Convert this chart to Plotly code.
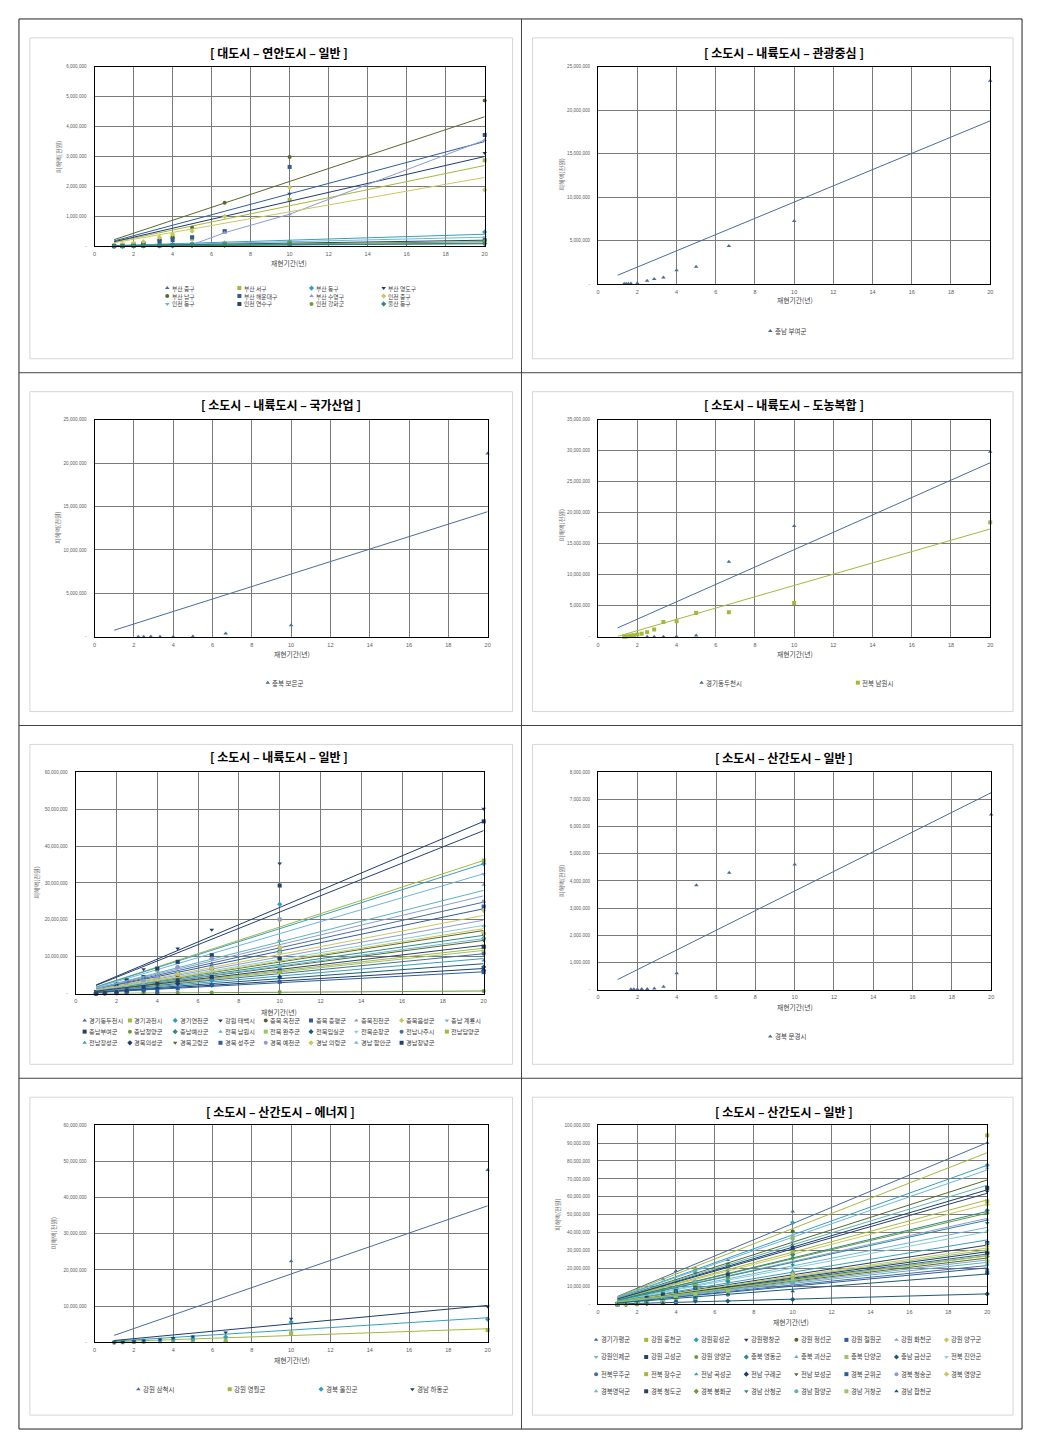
import plotly.graph_objects as go

PAGE_W, PAGE_H = 1041, 1453
BODY = 8                       # default page margin around the figure div
W, H = PAGE_W - 2 * BODY, PAGE_H - 2 * BODY
UNIT = 1_000_000          # all series values below are in millions of 천원
TREND_X = [1, 20]         # Excel trendline span (min..max return period)
X_TICKS = [0, 2, 4, 6, 8, 10, 12, 14, 16, 18, 20]
X_TITLE = "재현기간(년)"
Y_TITLE = "피해액(천원)"

# ---------------- Panel 1 : 대도시 - 연안도시 - 일반 ----------------
P1_TITLE = "[ 대도시 – 연안도시 – 일반 ]"
P1_X = [20, 10, 6.67, 5, 4, 3.33, 2.5, 2, 1.43, 1]
P1_NAMES = ["부산 중구", "부산 서구", "부산 동구", "부산 영도구",
            "부산 남구", "부산 해운대구", "부산 수영구", "인천 중구",
            "인천 동구", "인천 연수구", "인천 강화군", "울산 동구"]
P1_VALUES = [
    [0.12, 0.06, 0.04, 0.03, 0.02, 0.02, 0.01, 0.01, 0, 0],
    [2.87, 1.55, 0.5, 0.25, 0.3, 0.2, 0.1, 0.08, 0.05, 0.02],
    [0.47, 0.15, 0.1, 0.08, 0.05, 0.04, 0.02, 0.02, 0.01, 0],
    [3.12, 1.75, 1.0, 0.3, 0.25, 0.2, 0.1, 0.05, 0.03, 0.01],
    [4.87, 2.98, 1.45, 0.62, 0.3, 0.2, 0.1, 0.05, 0.02, 0.01],
    [3.72, 2.65, 0.5, 0.3, 0.2, 0.15, 0.1, 0.05, 0.02, 0.01],
    [3.55, 1.07, 0.45, 0.05, 0.03, 0.02, 0.01, 0.01, 0, 0],
    [1.88, 1.97, 1.0, 0.5, 0.4, 0.3, 0.15, 0.1, 0.05, 0.02],
    [0.3, 0.15, 0.12, 0.05, 0.04, 0.03, 0.02, 0.01, 0, 0],
    [0.2, 0.08, 0.06, 0.04, 0.03, 0.02, 0.01, 0.01, 0, 0],
    [0.17, 0.12, 0.08, 0.05, 0.03, 0.02, 0.01, 0.01, 0, 0],
    [0.08, 0.05, 0.03, 0.02, 0.01, 0.01, 0.01, 0, 0, 0],
]
# trendline slope (millions per year); None = points joined by a line
P1_SLOPES = [0.005, 0.135, 0.02, 0.15, 0.2165, 0.175, None, 0.115, 0.015, 0.01, 0.0075, 0.004]
P1_ICPTS = [0] * 12

# ---------------- Panel 2 : 소도시 - 내륙도시 - 관광중심 ----------------
P2_TITLE = "[ 소도시 – 내륙도시 – 관광중심 ]"
P2_X = [20, 10, 6.67, 5, 4, 3.33, 2.86, 2.5, 2, 1.67, 1.54, 1.43, 1.33]
P2_NAMES = ["충남 부여군"]
P2_VALUES = [[23.4, 7.25, 4.39, 1.98, 1.6, 0.76, 0.57, 0.38, 0.1, 0.05, 0.04, 0.03, 0.02]]
P2_SLOPES = [0.935]
P2_ICPTS = [0.08]

# ---------------- Panel 3 : 소도시 - 내륙도시 - 국가산업 ----------------
P3_TITLE = "[ 소도시 – 내륙도시 – 국가산업 ]"
P3_X = [20, 10, 6.67, 5, 4, 3.33, 2.86, 2.5, 2.22]
P3_NAMES = ["충북 보은군"]
P3_VALUES = [[21.1, 1.34, 0.38, 0.03, 0.02, 0.02, 0.03, 0.02, 0.02]]
P3_SLOPES = [0.718]
P3_ICPTS = [0.04]

# ---------------- Panel 4 : 소도시 - 내륙도시 - 도농복합 ----------------
P4_TITLE = "[ 소도시 – 내륙도시 – 도농복합 ]"
P4_X = [20, 10, 6.67, 5, 4, 3.33, 2.86, 2.5, 2.22, 2, 1.82, 1.67, 1.54, 1.43, 1.33]
P4_NAMES = ["경기동두천시", "전북 남원시"]
P4_VALUES = [
    [29.8, 17.85, 12.1, 0.2, 0.05, 0.02, 0.02, 0.02, None, None, None, None, None, None, None],
    [18.44, 5.45, 3.96, 3.85, 2.51, 2.4, 1.18, 0.75, 0.5, 0.37, 0.25, 0.2, 0.1, 0.05, 0.02],
]
P4_SLOPES = [1.40, 0.91]
P4_ICPTS = [0.04, -0.83]

# ---------------- Panel 5 : 소도시 - 내륙도시 - 일반 ----------------
P5_TITLE = "[ 소도시 – 내륙도시 – 일반 ]"
P5_X = [20, 10, 6.67, 5, 4, 3.33, 2.5, 2, 1.43, 1]
P5_NAMES = ["경기동두천시", "경기과천시", "경기연천군", "강원 태백시", "충북 옥천군",
            "충북 증평군", "충북진천군", "충북음성군", "충남 계룡시",
            "충남부여군", "충남청양군", "충남예산군", "전북 남원시", "전북 완주군",
            "전북임실군", "전북순창군", "전남나주시", "전남담양군",
            "전남장성군", "경북의성군", "경북고령군", "경북 성주군", "경북 예천군",
            "경남 의령군", "경남 함안군", "경남창녕군"]
P5_VALUES = [
    [24.9, 14.4, 8.1, 5.4, 4.5, 3.6, 2.3, 1.4, 0.6, 0.2],
    [36.1, 20.1, 10.4, 8.6, 6.3, 4.5, 2.7, 1.8, 0.8, 0.3],
    [35.2, 24.2, 9.5, 7.2, 4.5, 3.6, 2.7, 1.8, 0.8, 0.3],
    [50.1, 35.3, 17.3, 12.2, 6.8, 6.6, 3.6, 2.7, 1.0, 0.5],
    [16.3, 12.5, 6.8, 4.5, 2.7, 2.3, 1.8, 0.9, 0.4, 0.2],
    [23.6, 11.4, 6.8, 5.4, 4.5, 2.7, 1.8, 0.9, 0.4, 0.2],
    [18.3, 12.5, 5.4, 4.5, 3.6, 2.3, 1.4, 0.9, 0.4, 0.1],
    [22.5, 10.8, 5.4, 4.5, 2.7, 2.3, 1.8, 0.9, 0.4, 0.2],
    [32.4, 20.1, 10.4, 7.2, 6.3, 4.5, 2.7, 1.4, 0.6, 0.3],
    [46.7, 29.3, 10.4, 8.6, 6.8, 4.5, 3.6, 2.3, 0.9, 0.4],
    [0.7, 0.4, 0.3, 0.2, 0.1, 0.1, 0.1, 0, 0, 0],
    [15.0, 9.5, 6.8, 3.6, 2.7, 2.3, 1.4, 0.9, 0.4, 0.1],
    [29.5, 14.4, 9.5, 7.2, 4.5, 3.6, 2.3, 1.8, 0.6, 0.2],
    [11.4, 7.2, 4.5, 3.6, 2.7, 1.8, 1.4, 0.9, 0.3, 0.1],
    [7.2, 5.8, 3.6, 2.7, 1.4, 1.4, 0.9, 0.5, 0.2, 0.1],
    [18.3, 11.4, 6.8, 4.5, 2.7, 2.3, 1.8, 0.9, 0.4, 0.2],
    [10.8, 6.5, 3.6, 2.7, 2.7, 1.8, 0.9, 0.5, 0.2, 0.1],
    [12.7, 5.8, 4.5, 3.6, 2.7, 1.8, 1.4, 0.9, 0.3, 0.1],
    [9.0, 6.5, 3.6, 2.7, 1.4, 1.4, 0.9, 0.5, 0.2, 0.1],
    [6.3, 4.5, 2.3, 2.7, 1.4, 0.9, 0.5, 0.5, 0.2, 0],
    [14.4, 9.5, 5.4, 4.5, 2.7, 1.8, 1.4, 0.9, 0.4, 0.1],
    [5.8, 3.2, 2.3, 1.4, 0.5, 0.9, 0.5, 0.2, 0.1, 0],
    [25.0, 20.1, 9.5, 7.2, 4.5, 3.6, 2.3, 1.4, 0.6, 0.2],
    [16.5, 12.5, 6.8, 5.4, 3.6, 2.3, 1.8, 0.9, 0.4, 0.1],
    [15.0, 7.2, 5.4, 3.6, 2.7, 2.3, 1.4, 0.9, 0.3, 0.1],
    [12.7, 9.5, 4.5, 3.6, 2.7, 1.8, 0.9, 0.5, 0.2, 0.1],
]
P5_SLOPES = [1.24, 1.805, 1.76, 2.335, 0.855, 1.15, 0.995, 1.06, 1.625,
             2.21, 0.035, 0.79, 1.40, 0.585, 0.405, 0.925, 0.54, 0.615,
             0.475, 0.34, 0.72, 0.295, 1.325, 0.88, 0.745, 0.655]
P5_ICPTS = [0] * 26

# ---------------- Panel 6 : 소도시 - 산간도시 - 일반 (문경) ----------------
P6_TITLE = "[ 소도시 – 산간도시 – 일반 ]"
P6_X = [20, 10, 6.67, 5, 4, 3.33, 2.86, 2.5, 2.22, 2, 1.82, 1.67]
P6_NAMES = ["경북 문경시"]
P6_VALUES = [[6.45, 4.61, 4.30, 3.84, 0.6, 0.1, 0.04, 0.02, 0.02, 0.01, 0.01, 0.01]]
P6_SLOPES = [0.362]
P6_ICPTS = [0.01]

# ---------------- Panel 7 : 소도시 - 산간도시 - 에너지 ----------------
P7_TITLE = "[ 소도시 – 산간도시 – 에너지 ]"
P7_X = [20, 10, 6.67, 5, 4, 3.33, 2.5, 2, 1.43, 1]
P7_NAMES = ["강원 삼척시", "강원 영월군", "경북 울진군", "경남 하동군"]
P7_VALUES = [
    [47.6, 22.4, 0.5, 1.5, 1.2, 0.8, 0.5, 0.3, 0.1, 0],
    [3.4, 2.5, 0.5, 0.6, 0.4, 0.3, 0.2, 0.1, 0.05, 0],
    [6.4, 5.6, 1.5, 0.9, 0.8, 0.5, 0.3, 0.2, 0.1, 0],
    [9.9, 6.5, 2.75, 1.65, 1.2, 0.8, 0.5, 0.3, 0.1, 0],
]
P7_SLOPES = [1.883, 0.188, 0.34, 0.51]
P7_ICPTS = [0.05, 0, 0, 0]

# ---------------- Panel 8 : 소도시 - 산간도시 - 일반 ----------------
P8_TITLE = "[ 소도시 – 산간도시 – 일반 ]"
P8_X = [20, 10, 6.67, 5, 4, 3.33, 2.5, 2, 1.43, 1]
P8_NAMES = ["경기가평군", "강원 홍천군", "강원횡성군", "강원평창군", "강원 정선군",
            "강원 철원군", "강원 화천군", "강원 양구군",
            "강원인제군", "강원 고성군", "강원 양양군", "충북 영동군", "충북 괴산군",
            "충북 단양군", "충남 금산군", "전북 진안군",
            "전북무주군", "전북 장수군", "전남 곡성군", "전남 구례군", "전남 보성군",
            "경북 군위군", "경북 청송군", "경북 영양군",
            "경북영덕군", "경북 청도군", "경북 봉화군", "경남 산청군", "경남 함양군",
            "경남 거창군", "경남 합천군"]
P8_VALUES = [
    [90.0, 51.9, 24.8, 20.4, 18.7, 14.1, 6.0, 3.7, 1.9, 0.5],
    [94.3, 37.0, 22.2, 19.4, 13.0, 8.3, 5.6, 3.7, 1.9, 0.5],
    [77.6, 45.6, 20.4, 17.6, 9.3, 7.4, 5.6, 3.7, 1.9, 0.5],
    [63.0, 33.3, 18.5, 13.0, 9.3, 7.4, 3.7, 1.9, 0.9, 0.3],
    [65.0, 40.7, 22.2, 11.1, 7.4, 5.6, 3.7, 1.9, 0.9, 0.3],
    [28.7, 14.8, 7.4, 5.6, 3.7, 3.7, 1.9, 0.9, 0.5, 0.2],
    [47.2, 24.0, 13.0, 9.3, 5.6, 3.7, 1.9, 0.9, 0.5, 0.2],
    [55.7, 27.8, 14.8, 11.1, 7.4, 5.6, 3.7, 1.9, 0.9, 0.3],
    [45.4, 20.4, 11.1, 9.3, 5.6, 3.7, 1.9, 0.9, 0.5, 0.2],
    [34.3, 16.7, 9.3, 7.4, 5.6, 3.7, 1.9, 0.9, 0.5, 0.2],
    [50.9, 25.9, 14.8, 9.3, 7.4, 5.6, 3.7, 1.9, 0.9, 0.3],
    [52.4, 27.8, 13.0, 11.1, 5.6, 3.7, 1.9, 0.9, 0.5, 0.2],
    [65.0, 35.2, 16.7, 13.0, 9.3, 5.6, 3.7, 1.9, 0.9, 0.3],
    [30.5, 14.8, 7.4, 7.4, 3.7, 3.7, 1.9, 0.9, 0.5, 0.2],
    [5.9, 2.8, 1.9, 1.9, 0.9, 0.9, 0.5, 0.2, 0.1, 0],
    [41.1, 20.4, 11.1, 7.4, 5.6, 3.7, 1.9, 0.9, 0.5, 0.2],
    [19.4, 13.0, 5.6, 5.6, 3.7, 1.9, 0.9, 0.5, 0.2, 0.1],
    [57.5, 29.6, 16.7, 11.1, 7.4, 5.6, 3.7, 1.9, 0.9, 0.3],
    [34.3, 18.5, 11.1, 7.4, 5.6, 3.7, 1.9, 0.9, 0.5, 0.2],
    [28.7, 14.8, 9.3, 5.6, 3.7, 1.9, 1.9, 0.9, 0.5, 0.2],
    [24.1, 13.0, 7.4, 5.6, 3.7, 1.9, 0.9, 0.5, 0.2, 0.1],
    [17.6, 11.1, 7.4, 3.7, 1.9, 1.9, 0.9, 0.5, 0.2, 0.1],
    [26.7, 11.1, 5.6, 3.7, 3.7, 1.9, 0.9, 0.5, 0.2, 0.1],
    [32.4, 16.7, 7.4, 5.6, 3.7, 3.7, 1.9, 0.9, 0.5, 0.2],
    [76.0, 38.9, 20.4, 13.0, 9.3, 5.6, 3.7, 1.9, 0.9, 0.3],
    [65.0, 31.5, 16.7, 9.3, 7.4, 5.6, 3.7, 1.9, 0.9, 0.3],
    [26.7, 13.0, 7.4, 5.6, 3.7, 1.9, 0.9, 0.5, 0.2, 0.1],
    [45.4, 22.2, 13.0, 9.3, 7.4, 3.7, 1.9, 0.9, 0.5, 0.2],
    [22.2, 13.0, 5.6, 3.7, 1.9, 1.9, 0.9, 0.5, 0.2, 0.1],
    [24.1, 14.8, 7.4, 5.6, 3.7, 1.9, 0.9, 0.5, 0.2, 0.1],
    [17.6, 7.4, 5.6, 3.7, 1.9, 0.9, 0.9, 0.5, 0.2, 0.1],
]
P8_SLOPES = [4.51, 4.23, 3.88, 3.195, 3.47, 1.405, 2.40, 2.795, 2.15, 1.655,
             2.545, 2.595, 3.325, 1.52, 0.295, 2.03, 1.085, 2.915, 1.80, 1.47,
             1.295, 1.02, 1.24, 1.575, 3.75, 3.10, 1.36, 2.35, 1.175, 1.35, 0.85]
P8_ICPTS = [0] * 31

# ---------------- Styling (layout only) ----------------
PALETTE = ['#4a6c9b', '#a4b83c', '#35a0bd', '#1f3c6c', '#56692a', '#2d5d9e',
           '#8b9bd6', '#c9c85e', '#6cb5dc', '#24406f', '#6a9a3a', '#2a8a8a',
           '#58b6b6', '#9cc468', '#1b5b78', '#86cfd0']
SYMBOLS = ['triangle-up', 'square', 'diamond', 'triangle-down', 'circle', 'square',
           'triangle-up', 'diamond', 'triangle-down', 'square', 'circle', 'diamond']

DATA = [
    (P1_TITLE, P1_X, P1_NAMES, P1_VALUES, P1_SLOPES, P1_ICPTS),
    (P2_TITLE, P2_X, P2_NAMES, P2_VALUES, P2_SLOPES, P2_ICPTS),
    (P3_TITLE, P3_X, P3_NAMES, P3_VALUES, P3_SLOPES, P3_ICPTS),
    (P4_TITLE, P4_X, P4_NAMES, P4_VALUES, P4_SLOPES, P4_ICPTS),
    (P5_TITLE, P5_X, P5_NAMES, P5_VALUES, P5_SLOPES, P5_ICPTS),
    (P6_TITLE, P6_X, P6_NAMES, P6_VALUES, P6_SLOPES, P6_ICPTS),
    (P7_TITLE, P7_X, P7_NAMES, P7_VALUES, P7_SLOPES, P7_ICPTS),
    (P8_TITLE, P8_X, P8_NAMES, P8_VALUES, P8_SLOPES, P8_ICPTS),
]

# page-pixel layout: plot box (x0, x1, y0, y1), y max/step (millions), title pos,
# x-title pos, y-title pos, legend (x0, dx, y0, dy, ncols)
STYLE = [
    dict(box=(93, 485, 65, 245), ymax=6, ystep=1, tpos=(278, 51), xt=(288, 262), yt=(57, 155),
         leg=(166, 72.5, 287, 8, 4), lfs=5.8),
    dict(box=(599, 993, 65, 283), ymax=25, ystep=5, tpos=(786, 51), xt=(797, 299), yt=(562, 173),
         leg=(772, 0, 330, 0, 1), lfs=6.5),
    dict(box=(93, 488, 419, 637), ymax=25, ystep=5, tpos=(280, 404), xt=(291, 654), yt=(55, 527),
         leg=(267, 0, 683, 0, 1), lfs=6.5),
    dict(box=(599, 993, 419, 637), ymax=35, ystep=5, tpos=(786, 404), xt=(797, 654), yt=(562, 525),
         leg=(703, 157, 683, 0, 2), lfs=6.5),
    dict(box=(74, 484, 773, 995), ymax=60, ystep=10, tpos=(278, 757), xt=(278, 1013), yt=(35, 883),
         leg=(83, 45.5, 1022, 11.2, 9), lfs=6.2),
    dict(box=(599, 994, 773, 991), ymax=8, ystep=1, tpos=(786, 758), xt=(797, 1008), yt=(563, 882),
         leg=(772, 0, 1038, 0, 1), lfs=6.5),
    dict(box=(93, 488, 1127, 1345), ymax=60, ystep=10, tpos=(280, 1113), xt=(291, 1363), yt=(52, 1235),
         leg=(137, 91.8, 1392, 0, 4), lfs=6.5),
    dict(box=(599, 990, 1127, 1307), ymax=100, ystep=10, tpos=(786, 1113), xt=(793, 1325), yt=(558, 1217),
         leg=(597, 50.3, 1342.5, 17.2, 8), lfs=6.3),
]

KFONT = "Noto Sans CJK KR"
NFONT = "Liberation Sans"
GRID = '#7a7a7a'


def px(x):
    return (x - BODY) / W


def py(y):
    return 1 - (y - BODY) / H


fig = go.Figure()
layout = {}
annotations = []
shapes = []
leg_x, leg_y, leg_sym, leg_col = [], [], [], []

for k, ((title, xs, names, values, slopes, icpts), st) in enumerate(zip(DATA, STYLE), start=1):
    xa = 'x' if k == 1 else f'x{k}'
    ya = 'y' if k == 1 else f'y{k}'
    x0, x1, y0, y1 = st['box']
    for i, name in enumerate(names):
        color = PALETTE[i % len(PALETTE)]
        sym = SYMBOLS[i % len(SYMBOLS)]
        ys = [None if v is None else v * UNIT for v in values[i]]
        if slopes[i] is None:
            pts = sorted((a, b) for a, b in zip(xs, ys) if b is not None)
            fig.add_trace(go.Scatter(
                x=[p[0] for p in pts], y=[p[1] for p in pts], mode='lines+markers',
                line=dict(color=color, width=1), marker=dict(symbol=sym, size=4, color=color),
                name=name, showlegend=False, xaxis=xa, yaxis=ya, cliponaxis=False, hoverinfo='skip'))
        else:
            ty = [(slopes[i] * t + icpts[i]) * UNIT for t in TREND_X]
            fig.add_trace(go.Scatter(
                x=TREND_X, y=ty, mode='lines', line=dict(color=color, width=1),
                showlegend=False, xaxis=xa, yaxis=ya, hoverinfo='skip'))
            fig.add_trace(go.Scatter(
                x=xs, y=ys, mode='markers', marker=dict(symbol=sym, size=4, color=color),
                name=name, showlegend=False, xaxis=xa, yaxis=ya, cliponaxis=False, hoverinfo='skip'))
        # manual legend entry
        lx0, ldx, ly0, ldy, ncol = st['leg']
        cx = lx0 + (i % ncol) * ldx
        cy = ly0 + (i // ncol) * ldy
        leg_x.append(cx)
        leg_y.append(cy)
        leg_sym.append(sym)
        leg_col.append(color)
        annotations.append(dict(x=px(cx + 2.5), y=py(cy), xref='paper', yref='paper', text=name,
                                showarrow=False, xanchor='left', yanchor='middle',
                                font=dict(family=KFONT, size=st['lfs'], color='#404040')))

    yvals = list(range(0, st['ymax'] + st['ystep'], st['ystep']))
    ytext = ['-' if v == 0 else f"{v * UNIT:,}" for v in yvals]
    layout['xaxis' if k == 1 else f'xaxis{k}'] = dict(
        domain=[px(x0), px(x1)], anchor=ya, range=[0, 20], tickvals=X_TICKS,
        ticktext=[str(t) for t in X_TICKS], showgrid=True, gridcolor=GRID, gridwidth=1,
        showline=True, linecolor='black', linewidth=1.2, mirror=True, zeroline=False,
        ticks='', ticklabelstandoff=2, tickfont=dict(family=NFONT, size=5.5, color='#5a5a5a'),
        fixedrange=True)
    layout['yaxis' if k == 1 else f'yaxis{k}'] = dict(
        domain=[py(y1), py(y0)], anchor=xa, range=[0, st['ymax'] * UNIT],
        tickvals=[v * UNIT for v in yvals], ticktext=ytext, showgrid=True, gridcolor=GRID,
        gridwidth=1, showline=True, linecolor='black', linewidth=1.2, mirror=True,
        zeroline=False, ticks='', ticklabelstandoff=6,
        tickfont=dict(family=NFONT, size=4.6, color='#5a5a5a'), fixedrange=True)

    tx, ty_ = st['tpos']
    annotations.append(dict(x=px(tx), y=py(ty_), xref='paper', yref='paper', text=f"<b>{title}</b>",
                            showarrow=False, xanchor='center', yanchor='middle',
                            font=dict(family=KFONT, size=12, color='black')))
    xtx, xty = st['xt']
    annotations.append(dict(x=px(xtx), y=py(xty), xref='paper', yref='paper', text=X_TITLE,
                            showarrow=False, xanchor='center', yanchor='middle',
                            font=dict(family=KFONT, size=6.8, color='#404040')))
    ytx, yty = st['yt']
    annotations.append(dict(x=px(ytx), y=py(yty), xref='paper', yref='paper', text=Y_TITLE,
                            showarrow=False, xanchor='center', yanchor='middle', textangle=-90,
                            font=dict(family=KFONT, size=6.2, color='#707070')))

# legend symbols on a full-page overlay axis (page-pixel coordinates)
fig.add_trace(go.Scatter(x=leg_x, y=leg_y, mode='markers',
                         marker=dict(symbol=leg_sym, color=leg_col, size=4),
                         xaxis='x9', yaxis='y9', showlegend=False, hoverinfo='skip', cliponaxis=False))
layout['xaxis9'] = dict(domain=[0, 1], range=[BODY, BODY + W], visible=False, anchor='y9', fixedrange=True)
layout['yaxis9'] = dict(domain=[0, 1], range=[BODY + H, BODY], visible=False, anchor='x9', fixedrange=True)

# page frame, cell dividers and light chart-area borders
FRAME = (17, 1025, 17, 1432)
COL_SPLIT = 522
ROW_SPLITS = [372, 726, 1080]
shapes.append(dict(type='rect', xref='paper', yref='paper', x0=px(FRAME[0]), x1=px(FRAME[1]),
                   y0=py(FRAME[3]), y1=py(FRAME[2]), line=dict(color='#222', width=1)))
shapes.append(dict(type='line', xref='paper', yref='paper', x0=px(COL_SPLIT), x1=px(COL_SPLIT),
                   y0=py(FRAME[3]), y1=py(FRAME[2]), line=dict(color='#444', width=1)))
for ry in ROW_SPLITS:
    shapes.append(dict(type='line', xref='paper', yref='paper', x0=px(FRAME[0]), x1=px(FRAME[1]),
                       y0=py(ry), y1=py(ry), line=dict(color='#444', width=1)))
rows = [FRAME[2]] + ROW_SPLITS + [FRAME[3]]
cols = [FRAME[0], COL_SPLIT, FRAME[1]]
for r in range(4):
    for c in range(2):
        shapes.append(dict(type='rect', xref='paper', yref='paper',
                           x0=px(cols[c] + 11), x1=px(cols[c + 1] - 9),
                           y0=py(rows[r + 1] - 14), y1=py(rows[r] + 19),
                           line=dict(color='#d6d6d6', width=1)))

fig.update_layout(width=W, height=H, margin=dict(l=0, r=0, t=0, b=0),
                  paper_bgcolor='white', plot_bgcolor='rgba(0,0,0,0)',
                  showlegend=False, annotations=annotations, shapes=shapes, **layout)
fig.write_html("out.html")
